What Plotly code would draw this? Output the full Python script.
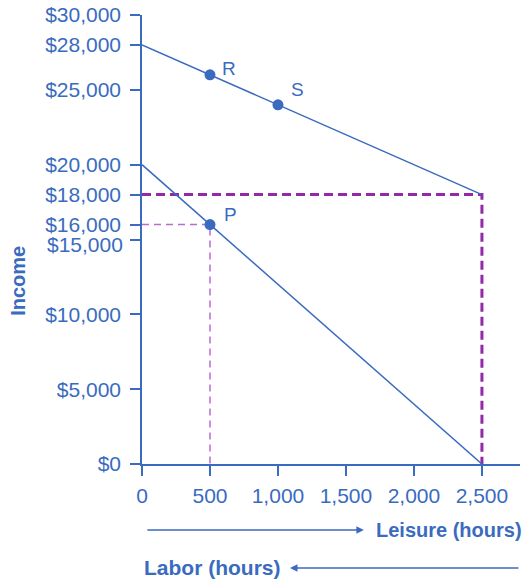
import plotly.graph_objects as go

# Data
leisure_hours = [0, 2500]
budget_high = [28000, 18000]
budget_low = [20000, 0]
point_names = ["R", "S", "P"]
point_x = [500, 1000, 500]
point_y = [26000, 24000, 16000]
dash_thick_x = [0, 2500, 2500]
dash_thick_y = [18000, 18000, 0]
dash_thin_x = [0, 500, 500]
dash_thin_y = [16000, 16000, 0]
y_ticks = [0, 5000, 10000, 15000, 16000, 18000, 20000, 25000, 28000, 30000]
y_ticklabels = ["$0", "$5,000", "$10,000", "$15,000", "$16,000", "$18,000",
                "$20,000", "$25,000", "$28,000", "$30,000"]
x_ticks = [0, 500, 1000, 1500, 2000, 2500]
x_ticklabels = ["0", "500", "1,000", "1,500", "2,000", "2,500"]

BLUE = "#3a6bbf"
PURPLE_DARK = "#9528a8"
PURPLE_LIGHT = "#bb6ad0"
FONT = "Liberation Sans, Arial, sans-serif"

# label offsets (pixels) for point names
label_dx = [10, 11, 12]
label_dy = [6, 15, 10]

# the $15,000 label sits slightly lower in the reference, drawn separately
nudged_tick = 15000
axis_ticktext = ["" if v == nudged_tick else t for v, t in zip(y_ticks, y_ticklabels)]
nudged_text = y_ticklabels[y_ticks.index(nudged_tick)]

fig = go.Figure()
fig.add_trace(go.Scatter(x=dash_thick_x, y=dash_thick_y, mode="lines",
                         line=dict(color=PURPLE_DARK, width=3, dash="9px,5px"),
                         hoverinfo="skip"))
fig.add_trace(go.Scatter(x=dash_thin_x, y=dash_thin_y, mode="lines",
                         line=dict(color=PURPLE_LIGHT, width=1.5, dash="7px,5px"),
                         hoverinfo="skip"))
fig.add_trace(go.Scatter(x=leisure_hours, y=budget_high, mode="lines",
                         line=dict(color=BLUE, width=1.5)))
fig.add_trace(go.Scatter(x=leisure_hours, y=budget_low, mode="lines",
                         line=dict(color=BLUE, width=1.5)))
fig.add_trace(go.Scatter(x=point_x, y=point_y, mode="markers",
                         marker=dict(color=BLUE, size=11)))

annotations = [
    dict(text="<b>Income</b>", xref="paper", yref="paper", x=-0.328, y=0.408,
         xanchor="center", yanchor="middle",
         textangle=-90, showarrow=False, font=dict(size=20, color=BLUE)),
    dict(text="", xref="paper", yref="paper", x=0.587, y=-0.147,
         ax=-218, ay=0, showarrow=True, arrowhead=2, arrowsize=1,
         arrowwidth=1.5, arrowcolor=BLUE),
    dict(text="<b>Leisure (hours)</b>", xref="paper", yref="paper",
         x=0.614, y=-0.147, xanchor="left", yanchor="middle",
         showarrow=False, font=dict(size=20, color=BLUE)),
    dict(text="", xref="paper", yref="paper", x=0.3915, y=-0.2316,
         ax=230, ay=0, showarrow=True, arrowhead=2, arrowsize=1,
         arrowwidth=1.5, arrowcolor=BLUE),
    dict(text="<b>Labor (hours)</b>", xref="paper", yref="paper",
         x=0.0, y=-0.2316, xanchor="left", yanchor="middle",
         showarrow=False, font=dict(size=21, color=BLUE)),
    dict(text=nudged_text, xref="paper", yref="y", x=0, y=nudged_tick,
         xanchor="right", yanchor="middle", xshift=-17, yshift=-5,
         showarrow=False, font=dict(size=21, color=BLUE)),
]
for name, px_, py_, dx, dy in zip(point_names, point_x, point_y, label_dx, label_dy):
    annotations.append(dict(text=name, x=px_, y=py_, xref="x", yref="y",
                            xanchor="left", yanchor="middle", xshift=dx, yshift=dy,
                            showarrow=False, font=dict(size=19, color=BLUE)))

fig.update_layout(
    width=525, height=582,
    margin=dict(l=142, r=5, t=15, b=118),
    paper_bgcolor="white", plot_bgcolor="white",
    showlegend=False,
    font=dict(family=FONT, color=BLUE, size=21),
    xaxis=dict(range=[0, 2780], tickvals=x_ticks, ticktext=x_ticklabels,
               showgrid=False, zeroline=False, showline=True, linecolor=BLUE,
               linewidth=1.5, ticks="outside", ticklen=10, tickcolor=BLUE,
               tickwidth=1.5, tickfont=dict(size=21, color=BLUE),
               automargin=False, ticklabelstandoff=2),
    yaxis=dict(range=[0, 30000], tickvals=y_ticks, ticktext=axis_ticktext,
               showgrid=False, zeroline=False, showline=True, linecolor=BLUE,
               linewidth=1.5, ticks="outside", ticklen=10, tickcolor=BLUE,
               tickwidth=1.5, tickfont=dict(size=21, color=BLUE),
               automargin=False, ticklabelstandoff=5, ticklabeloverflow="allow"),
    annotations=annotations,
)
fig.write_html("out.html", post_script="document.body.style.margin='0';",
               config={"displayModeBar": False})
